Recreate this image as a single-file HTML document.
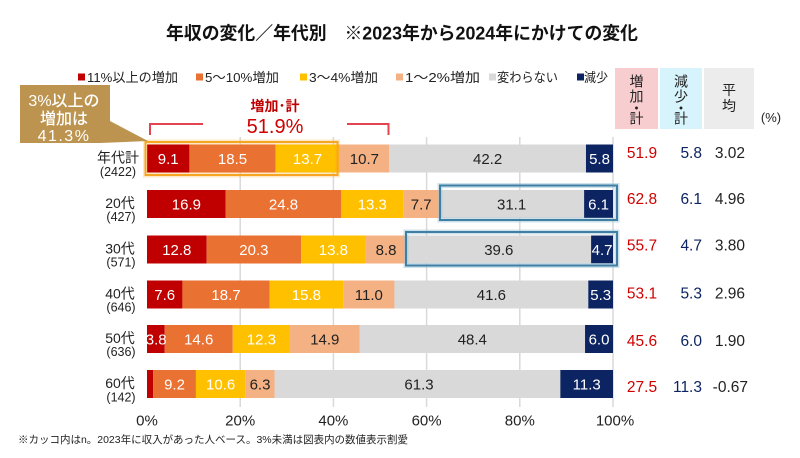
<!DOCTYPE html>
<html><head><meta charset="utf-8"><style>
html,body{margin:0;padding:0;background:#fff;}
svg{display:block;}
text{font-family:"Liberation Sans","Noto Sans CJK JP",sans-serif;}
</style></head><body>
<svg width="800" height="458" viewBox="0 0 800 458" xmlns="http://www.w3.org/2000/svg">
<rect width="800" height="458" fill="#fff"/>
<!-- title -->
<text x="166" y="39.5" font-size="18" font-weight="bold" fill="#111" textLength="472" lengthAdjust="spacingAndGlyphs">年収の変化／年代別　※2023年から2024年にかけての変化</text>

<!-- legend -->
<g font-size="13" fill="#222">
<rect x="78" y="73.5" width="7" height="7" fill="#c00000"/><text x="87" y="82" textLength="91" lengthAdjust="spacingAndGlyphs">11%以上の増加</text>
<rect x="196" y="73.5" width="7" height="7" fill="#e97132"/><text x="205" y="82" textLength="74" lengthAdjust="spacingAndGlyphs">5～10%増加</text>
<rect x="300" y="73.5" width="7" height="7" fill="#ffc000"/><text x="309" y="82" textLength="69" lengthAdjust="spacingAndGlyphs">3～4%増加</text>
<rect x="396" y="73.5" width="7" height="7" fill="#f4b183"/><text x="405" y="82" textLength="75" lengthAdjust="spacingAndGlyphs">1～2%増加</text>
<rect x="489" y="73.5" width="7" height="7" fill="#d9d9d9"/><text x="497" y="82" textLength="61" lengthAdjust="spacingAndGlyphs">変わらない</text>
<rect x="577" y="73.5" width="7" height="7" fill="#0c2461"/><text x="584" y="82" textLength="24" lengthAdjust="spacingAndGlyphs">減少</text>
</g>

<!-- header boxes -->
<rect x="615" y="68" width="43" height="61" fill="#f8cdd0"/>
<rect x="660" y="68" width="42" height="61" fill="#d7f3fc"/>
<rect x="704" y="68" width="50" height="61" fill="#ececec"/>
<g font-size="14" fill="#222" text-anchor="middle">
<text x="636.5" y="86.5">増</text><text x="636.5" y="101.5">加</text><text x="636.5" y="113.5">・</text><text x="636.5" y="123.5">計</text>
<text x="681" y="86.5">減</text><text x="681" y="101.5">少</text><text x="681" y="113.5">・</text><text x="681" y="123.5">計</text>
<text x="729" y="95">平</text><text x="729" y="111">均</text>
</g>
<text x="771" y="122" font-size="13" fill="#222" text-anchor="middle">(%)</text>

<!-- gridlines -->
<g stroke="#d9d9d9" stroke-width="1.5">
<line x1="240.2" y1="137" x2="240.2" y2="407"/>
<line x1="333.4" y1="137" x2="333.4" y2="407"/>
<line x1="426.6" y1="137" x2="426.6" y2="407"/>
<line x1="519.8" y1="137" x2="519.8" y2="407"/>
<line x1="613" y1="137" x2="613" y2="407"/>
</g>

<!-- bars -->
<g>
<rect x="147" y="144.5" width="42.41" height="28" fill="#c00000"/>
<rect x="189.41" y="144.5" width="86.21" height="28" fill="#e97132"/>
<rect x="275.62" y="144.5" width="63.84" height="28" fill="#ffc000"/>
<rect x="339.46" y="144.5" width="49.86" height="28" fill="#f4b183"/>
<rect x="389.32" y="144.5" width="196.65" height="28" fill="#d9d9d9"/>
<rect x="585.97" y="144.5" width="27.03" height="28" fill="#0c2461"/>
<rect x="147" y="190" width="78.75" height="28" fill="#c00000"/>
<rect x="225.75" y="190" width="115.57" height="28" fill="#e97132"/>
<rect x="341.32" y="190" width="61.98" height="28" fill="#ffc000"/>
<rect x="403.3" y="190" width="35.88" height="28" fill="#f4b183"/>
<rect x="439.18" y="190" width="144.93" height="28" fill="#d9d9d9"/>
<rect x="584.11" y="190" width="28.89" height="28" fill="#0c2461"/>
<rect x="147" y="235.5" width="59.65" height="28" fill="#c00000"/>
<rect x="206.65" y="235.5" width="94.6" height="28" fill="#e97132"/>
<rect x="301.25" y="235.5" width="64.3" height="28" fill="#ffc000"/>
<rect x="365.55" y="235.5" width="41.01" height="28" fill="#f4b183"/>
<rect x="406.56" y="235.5" width="184.54" height="28" fill="#d9d9d9"/>
<rect x="591.1" y="235.5" width="21.9" height="28" fill="#0c2461"/>
<rect x="147" y="280.5" width="35.42" height="28" fill="#c00000"/>
<rect x="182.42" y="280.5" width="87.14" height="28" fill="#e97132"/>
<rect x="269.56" y="280.5" width="73.63" height="28" fill="#ffc000"/>
<rect x="343.19" y="280.5" width="51.26" height="28" fill="#f4b183"/>
<rect x="394.45" y="280.5" width="193.85" height="28" fill="#d9d9d9"/>
<rect x="588.3" y="280.5" width="24.7" height="28" fill="#0c2461"/>
<rect x="147" y="325" width="17.71" height="28" fill="#c00000"/>
<rect x="164.71" y="325" width="68.03" height="28" fill="#e97132"/>
<rect x="232.74" y="325" width="57.32" height="28" fill="#ffc000"/>
<rect x="290.06" y="325" width="69.44" height="28" fill="#f4b183"/>
<rect x="359.5" y="325" width="225.54" height="28" fill="#d9d9d9"/>
<rect x="585.04" y="325" width="27.96" height="28" fill="#0c2461"/>
<rect x="147" y="370" width="6.06" height="28" fill="#c00000"/>
<rect x="153.06" y="370" width="42.87" height="28" fill="#e97132"/>
<rect x="195.93" y="370" width="49.4" height="28" fill="#ffc000"/>
<rect x="245.33" y="370" width="29.35" height="28" fill="#f4b183"/>
<rect x="274.68" y="370" width="285.66" height="28" fill="#d9d9d9"/>
<rect x="560.34" y="370" width="52.66" height="28" fill="#0c2461"/>
</g>

<!-- bar labels -->
<g font-size="15" text-anchor="middle">
<g fill="#fff">
<text x="168.2" y="164">9.1</text><text x="232.5" y="164">18.5</text><text x="307.5" y="164">13.7</text>
<text x="186.4" y="209.5">16.9</text><text x="283.5" y="209.5">24.8</text><text x="372.3" y="209.5">13.3</text>
<text x="176.8" y="255">12.8</text><text x="253.9" y="255">20.3</text><text x="333.4" y="255">13.8</text>
<text x="164.7" y="300">7.6</text><text x="226" y="300">18.7</text><text x="306.4" y="300">15.8</text>
<text x="156.2" y="344.5">3.8</text><text x="198.7" y="344.5">14.6</text><text x="261.4" y="344.5">12.3</text>
<text x="174.5" y="389.5">9.2</text><text x="220.6" y="389.5">10.6</text>
<text x="599.5" y="164">5.8</text><text x="598.6" y="209.5">6.1</text><text x="602.1" y="255">4.7</text>
<text x="600.7" y="300">5.3</text><text x="599" y="344.5">6.0</text><text x="586.7" y="389.5">11.3</text>
</g>
<g fill="#222">
<text x="364.4" y="164">10.7</text><text x="487.6" y="164">42.2</text>
<text x="421.2" y="209.5">7.7</text><text x="511.6" y="209.5">31.1</text>
<text x="386.1" y="255">8.8</text><text x="498.8" y="255">39.6</text>
<text x="368.8" y="300">11.0</text><text x="491.4" y="300">41.6</text>
<text x="324.8" y="344.5">14.9</text><text x="472.3" y="344.5">48.4</text>
<text x="260" y="389.5">6.3</text><text x="419" y="389.5">61.3</text>
</g>
</g>

<!-- highlight boxes -->
<rect x="145.5" y="142" width="192" height="33" fill="none" stroke="#f6a623" stroke-opacity="0.25" stroke-width="5"/>
<rect x="145.5" y="142" width="192" height="33" fill="none" stroke="#f6a623" stroke-width="2"/>
<rect x="440" y="185.5" width="177" height="34.5" fill="none" stroke="#9cc3d8" stroke-opacity="0.5" stroke-width="5"/>
<rect x="440" y="185.5" width="177" height="34.5" fill="none" stroke="#3f7fa3" stroke-width="2"/>
<rect x="406" y="232" width="211" height="33.5" fill="none" stroke="#9cc3d8" stroke-opacity="0.5" stroke-width="5"/>
<rect x="406" y="232" width="211" height="33.5" fill="none" stroke="#3f7fa3" stroke-width="2"/>

<!-- bracket -->
<g stroke="#e0303c" stroke-width="2" fill="none" stroke-opacity="0.9">
<path d="M150,135 L150,124 L203,124"/>
<path d="M347,124 L388.5,124 L388.5,135"/>
</g>
<text x="275" y="111" font-size="14" font-weight="bold" fill="#c00000" text-anchor="middle">増加･計</text>
<text x="275" y="133" font-size="20" fill="#d00000" text-anchor="middle">51.9%</text>

<!-- callout -->
<path d="M20,85 L110,85 L110,121 L148,141 L100,143 L20,143 Z" fill="#bc944f"/>
<g fill="#fff" font-size="16" font-weight="500" text-anchor="middle">
<text x="64" y="106">3%以上の</text>
<text x="64" y="124">増加は</text>
<text x="64" y="141" letter-spacing="1.5">41.3%</text>
</g>

<!-- row labels -->
<g fill="#222" text-anchor="middle">
<g font-size="14">
<text x="118" y="162.5">年代計</text>
<text x="120" y="208">20代</text>
<text x="120" y="253.5">30代</text>
<text x="120" y="298.5">40代</text>
<text x="120" y="343">50代</text>
<text x="120" y="388">60代</text>
</g>
<g font-size="12.5">
<text x="118" y="176">(2422)</text>
<text x="121" y="221">(427)</text>
<text x="121" y="266.5">(571)</text>
<text x="121" y="311.5">(646)</text>
<text x="121" y="356">(636)</text>
<text x="121" y="401.5">(142)</text>
</g>
</g>

<!-- right columns -->
<g font-size="15.5">
<g fill="#d00000" text-anchor="middle">
<text x="642" y="158">51.9</text><text x="642" y="204">62.8</text><text x="642" y="250.5">55.7</text>
<text x="642" y="298.5">53.1</text><text x="642" y="346">45.6</text><text x="642" y="392">27.5</text>
</g>
<g fill="#0c2461" text-anchor="end">
<text x="702" y="158">5.8</text><text x="702" y="204">6.1</text><text x="702" y="250.5">4.7</text>
<text x="702" y="298.5">5.3</text><text x="702" y="346">6.0</text><text x="702" y="392">11.3</text>
</g>
<g fill="#222" text-anchor="end">
<text x="745" y="158">3.02</text><text x="745" y="204">4.96</text><text x="745" y="250.5">3.80</text>
<text x="745" y="298.5">2.96</text><text x="745" y="346">1.90</text><text x="748" y="392">-0.67</text>
</g>
</g>

<!-- axis labels -->
<g font-size="15" fill="#222" text-anchor="middle">
<text x="147" y="425.5">0%</text>
<text x="240.2" y="425.5">20%</text>
<text x="333.4" y="425.5">40%</text>
<text x="426.6" y="425.5">60%</text>
<text x="519.8" y="425.5">80%</text>
<text x="615" y="425.5">100%</text>
</g>

<!-- footnote -->
<text x="18" y="443" font-size="10.5" fill="#222" textLength="390" lengthAdjust="spacingAndGlyphs">※カッコ内はn。2023年に収入があった人ベース。3%未満は図表内の数値表示割愛</text>
</svg>
</body></html>
